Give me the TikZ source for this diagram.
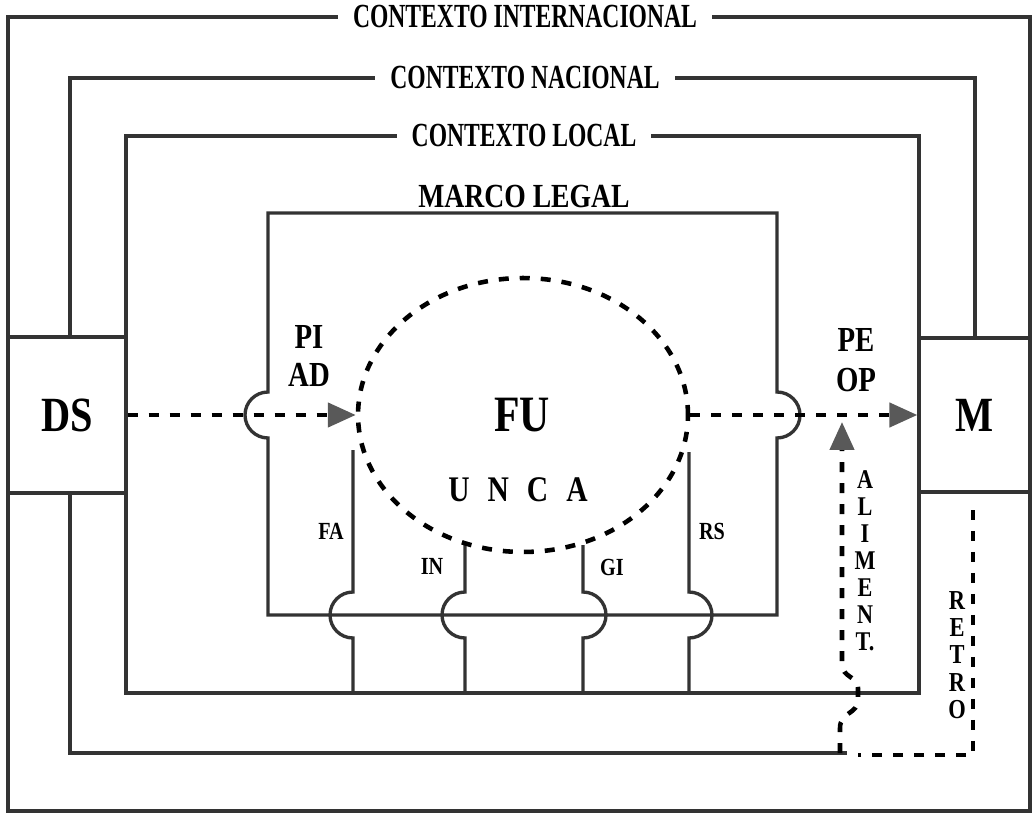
\documentclass[tikz,border=0pt]{standalone}
\usepackage{fontspec}
\setmainfont{Liberation Serif}
\newfontfamily\titlefont[FakeStretch=0.7]{Liberation Serif}
\newfontfamily\labelfont[FakeStretch=0.82]{Liberation Serif}
\usetikzlibrary{positioning,shapes.geometric,arrows.meta}

\begin{document}
\begin{tikzpicture}[
    x=0.02cm, y=-0.02cm,
    frame/.style={draw=black!80, line width=1.9pt},
    flow/.style={draw=black, line width=2.6pt, dash pattern=on 0.2cm off 0.22cm},
    tip/.style={-{Triangle[length=0.56cm, width=0.48cm, color=black!65]}},
    title/.style={fill=white, inner xsep=0.3cm, inner ysep=2pt, font=\titlefont\bfseries\fontsize{19.2}{20}\selectfont},
    box/.style={draw=black!80, line width=1.9pt, font=\labelfont\bfseries\fontsize{28}{29}\selectfont},
    tag/.style={font=\labelfont\bfseries\fontsize{20}{21.6}\selectfont, align=center},
    small/.style={font=\labelfont\bfseries\fontsize{14}{15}\selectfont},
    stack/.style={font=\labelfont\bfseries\fontsize{15.4}{15.4}\selectfont, align=center}
]
\useasboundingbox (0,0) rectangle (1033,813);

% Context frames
\draw[frame] (8,17) rectangle (1030,811);
\draw[frame] (70,337) -- (70,78) -- (975,78) -- (975,338);
\draw[frame] (70,493) -- (70,753) -- (847,753);
\draw[frame] (126,136) rectangle (919,693);

% Marco legal, with hops for the flow line
\draw[frame] (268,615) -- (268,438) arc[start angle=270, end angle=90, radius=0.46cm]
    -- (268,213) -- (777,213) -- (777,392) arc[start angle=90, end angle=-90, radius=0.46cm]
    -- (777,615) -- cycle;

% Vertical links crossing the marco legal
\draw[frame] (353,693) -- (353,638) arc[start angle=270, end angle=90, radius=0.46cm] -- (353,450);
\draw[frame] (465,693) -- (465,638) arc[start angle=270, end angle=90, radius=0.46cm] -- (465,545);
\draw[frame] (583,693) -- (583,638) arc[start angle=-90, end angle=90, radius=0.46cm] -- (583,545);
\draw[frame] (689,693) -- (689,638) arc[start angle=-90, end angle=90, radius=0.46cm] -- (689,452);

% Titles
\node[title] (ctxint) at (525,17) {CONTEXTO INTERNACIONAL};
\node[title] (ctxnac) at (525,78) {CONTEXTO NACIONAL};
\node[title] (ctxloc) at (524,136) {CONTEXTO LOCAL};
\node[title, fill=none, font=\labelfont\bfseries\fontsize{19.2}{20}\selectfont] (marco) at (524,197) {MARCO LEGAL};

% Side boxes and the university
\node[box, minimum width=2.36cm, minimum height=3.12cm, fill=white] (ds) at (67,415) {DS};
\node[box, minimum width=2.22cm, minimum height=3.08cm, fill=white] (m) at (974.5,415) {M};
\node[ellipse, flow, minimum width=6.6cm, minimum height=5.48cm, inner sep=0pt] (unca) at (523,415) {};
\node[font=\labelfont\bfseries\fontsize{29}{30}\selectfont] (fu) at (522,415) {FU};
\node[font=\labelfont\bfseries\fontsize{20.5}{22}\selectfont] (name) at (518,490)
    {U\hspace{0.36cm}N\hspace{0.36cm}C\hspace{0.36cm}A};

% Labels
\node[tag] (piad) at (309,356) {PI\\AD};
\node[tag, font=\labelfont\bfseries\fontsize{20}{22.7}\selectfont] (peop) at (856,360) {PE\\OP};
\node[small] (fa) at (331,531) {FA};
\node[small] (in) at (432,566) {IN};
\node[small] (gi) at (612,567) {GI};
\node[small] (rs) at (712,531) {RS};
\node[stack] (aliment) at (865,561) {A\\L\\I\\M\\E\\N\\T.};
\node[stack, font=\labelfont\bfseries\fontsize{15.6}{15.6}\selectfont] (retro) at (957,655) {R\\E\\T\\R\\O};

% Flows
\coordinate (alimfoot) at (840,753);
\coordinate (alimtip) at (842,422);
\coordinate (retrotop) at (973,510);
\coordinate (retrofoot) at (858,755);
\draw[flow, tip] (alimfoot) -- (840,728) .. controls (840,712) and (858,714) .. (858,700)
    -- (858,688) .. controls (858,676) and (842,678) .. (842,664) -- (alimtip);
\draw[flow] (retrotop) -- (973,755) -- (retrofoot);
\draw[flow, tip] (ds.east) -- (unca.west);
\draw[flow, tip] (unca.east) -- (m.west);

\end{tikzpicture}
\end{document}
